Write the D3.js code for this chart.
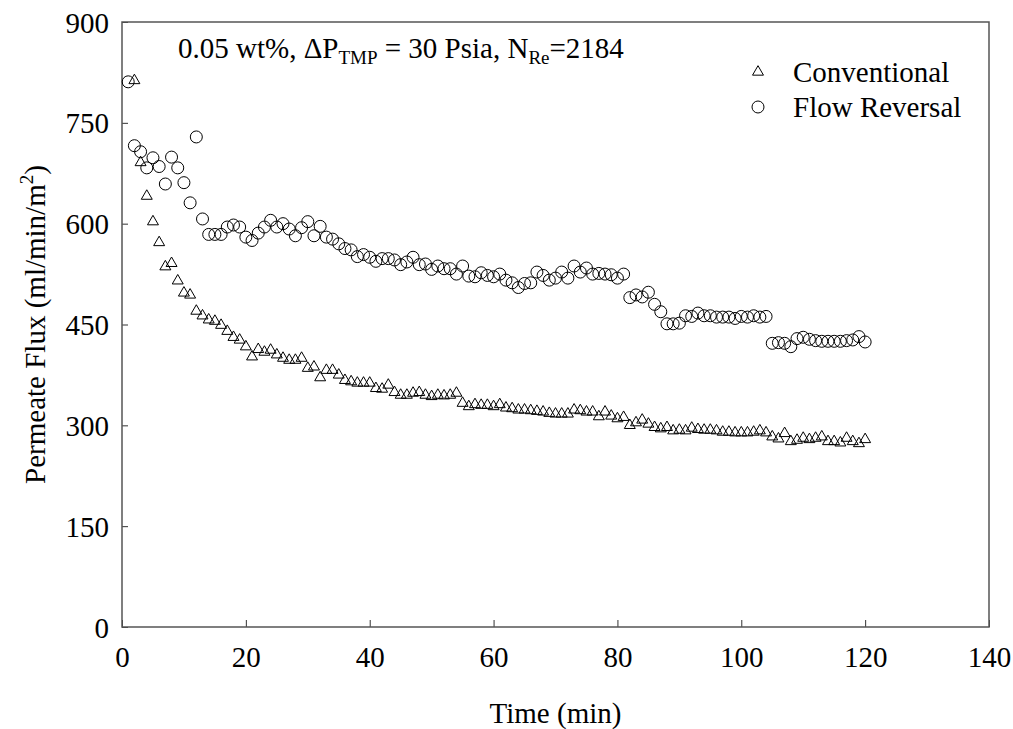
<!DOCTYPE html>
<html>
<head>
<meta charset="utf-8">
<script src="https://cdn.jsdelivr.net/npm/d3@7"></script>
<style>
  body { margin: 0; background: #fff; }
  text { font-family: "Liberation Serif", "Times New Roman", serif; fill: #000; }
</style>
</head>
<body>
<svg width="1013" height="729"></svg>
<script>
const xTicks = [0, 20, 40, 60, 80, 100, 120, 140]
const yTicks = [0, 150, 300, 450, 600, 750, 900]

// flow reversal: one reading per minute, 1..120
const reversalStart = 1
const reversal = [
  811, 716, 707, 683, 698, 685, 659, 699, 683, 661,
  631, 729, 607, 584, 584, 584, 595, 598, 595, 580,
  575, 586, 595, 605, 595, 600, 592, 582, 594, 603,
  582, 596, 580, 577, 570, 563, 561, 551, 554, 550,
  544, 548, 548, 546, 539, 543, 550, 539, 540, 532,
  537, 533, 533, 525, 537, 522, 521, 527, 523, 521,
  525, 516, 512, 505, 511, 512, 528, 523, 516, 519,
  528, 519, 537, 528, 534, 525, 526, 525, 524, 519,
  525, 490, 494, 491, 498, 480, 469, 451, 451, 452,
  463, 462, 467, 463, 463, 461, 461, 461, 459, 462,
  461, 463, 461, 462, 422, 423, 422, 417, 429, 431,
  428, 426, 425, 425, 425, 425, 426, 427, 432, 424
]

// conventional: one reading per minute, 2..120
const conventionalStart = 2
const conventional = [
  813, 691, 641, 603, 572, 536, 541, 515, 497,
  494, 470, 463, 457, 455, 449, 440, 431, 427, 417,
  402, 413, 409, 412, 405, 400, 397, 397, 400, 385,
  387, 371, 382, 382, 375, 367, 365, 363, 363, 363,
  355, 354, 360, 349, 345, 345, 348, 349, 345, 343,
  345, 344, 345, 348, 333, 328, 331, 330, 330, 328,
  331, 326, 325, 323, 323, 322, 321, 320, 318, 317,
  317, 317, 323, 322, 320, 320, 313, 320, 314, 310,
  312, 300, 304, 308, 302, 297, 295, 297, 292, 293,
  292, 296, 294, 293, 293, 292, 290, 290, 289, 289,
  289, 290, 292, 289, 283, 280, 288, 276, 278, 281,
  279, 281, 283, 276, 276, 274, 281, 276, 273, 279
]

const svg = d3.select('svg')
const plot = { left: 122, right: 989, top: 22, bottom: 627 }
const fs = 29, subFs = 19

const x = d3.scaleLinear().domain([0, 140]).range([plot.left, plot.right])
const y = d3.scaleLinear().domain([0, 900]).range([plot.bottom, plot.top])

const tri = d3.symbol().type(d3.symbolTriangle).size(52)
const circ = d3.symbol().type(d3.symbolCircle).size(113)

// inward ticks
const xAxis = svg.append('g')
    .attr('transform', `translate(0,${plot.bottom})`)
    .call(d3.axisBottom(x).tickValues(xTicks).tickSizeInner(-7).tickSizeOuter(0))
const yAxis = svg.append('g')
    .attr('transform', `translate(${plot.left},0)`)
    .call(d3.axisLeft(y).tickValues(yTicks).tickSizeInner(-6).tickSizeOuter(0))

for (const ax of [xAxis, yAxis]) {
    ax.select('.domain').remove()
    ax.selectAll('line').attr('stroke', '#333').attr('stroke-width', 1)
    ax.selectAll('text').attr('font-size', fs).attr('font-family', 'Liberation Serif').attr('fill', '#000')
}
xAxis.selectAll('text').attr('y', 19).attr('dy', '0.71em')
yAxis.selectAll('text').attr('x', -13).attr('dy', '0.35em')

svg.append('rect')
    .attr('x', plot.left).attr('y', plot.top)
    .attr('width', plot.right - plot.left).attr('height', plot.bottom - plot.top)
    .attr('fill', 'none').attr('stroke', '#555').attr('stroke-width', 1.5)

svg.append('g').selectAll('path')
    .data(conventional)
    .enter()
    .append('path')
    .attr('d', tri)
    .attr('transform', (d, i) => `translate(${x(conventionalStart + i)},${y(d)})`)
    .attr('fill', 'none').attr('stroke', '#000').attr('stroke-width', 1)

svg.append('g').selectAll('path')
    .data(reversal)
    .enter()
    .append('path')
    .attr('d', circ)
    .attr('transform', (d, i) => `translate(${x(reversalStart + i)},${y(d)})`)
    .attr('fill', 'none').attr('stroke', '#000').attr('stroke-width', 1)

// annotation
const note = svg.append('text').attr('x', 178).attr('y', 58).attr('font-size', fs)
note.append('tspan').text('0.05 wt%, ΔP')
note.append('tspan').text('TMP').attr('font-size', subFs).attr('dy', 6)
note.append('tspan').text(' = 30 Psia, N').attr('dy', -6)
note.append('tspan').text('Re').attr('font-size', subFs).attr('dy', 6)
note.append('tspan').text('=2184').attr('dy', -6)

// legend
const legend = [
    { label: 'Conventional', sym: tri, y: 72 },
    { label: 'Flow Reversal', sym: circ, y: 107 }
]
const lg = svg.append('g').selectAll('g')
    .data(legend)
    .enter()
    .append('g')
    .attr('transform', d => `translate(758,${d.y})`)
lg.append('path')
    .attr('d', d => d.sym())
    .attr('fill', 'none').attr('stroke', '#000').attr('stroke-width', 1)
lg.append('text')
    .text(d => d.label)
    .attr('x', 35).attr('dy', '0.35em')
    .attr('font-size', fs)

// axis titles
svg.append('text')
    .attr('x', (plot.left + plot.right) / 2).attr('y', 723)
    .attr('text-anchor', 'middle').attr('font-size', fs)
    .text('Time (min)')

const yl = svg.append('text')
    .attr('transform', `translate(45,${(plot.top + plot.bottom) / 2}) rotate(-90)`)
    .attr('text-anchor', 'middle').attr('font-size', fs)
yl.append('tspan').text('Permeate Flux (ml/min/m')
yl.append('tspan').text('2').attr('font-size', subFs).attr('dy', -12)
yl.append('tspan').text(')').attr('dy', 12)
</script>
</body>
</html>
